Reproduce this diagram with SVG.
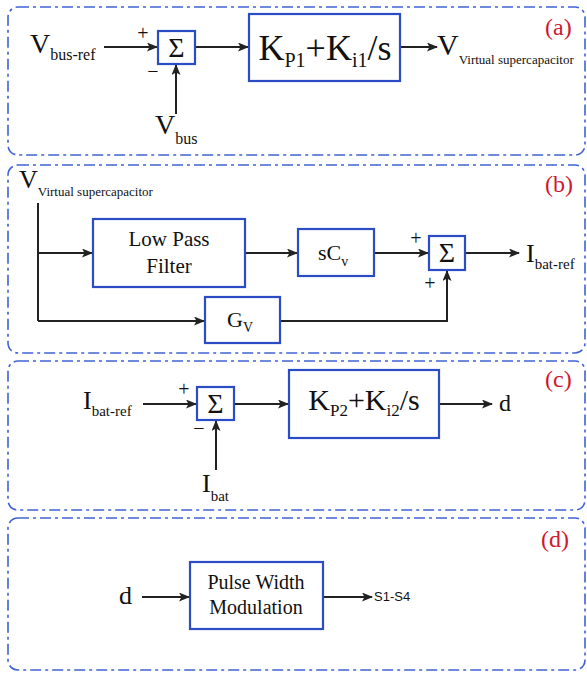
<svg xmlns="http://www.w3.org/2000/svg" width="587" height="673" viewBox="0 0 587 673">
<defs>
<marker id="ah" markerWidth="11" markerHeight="9" refX="10" refY="4.5" orient="auto" markerUnits="userSpaceOnUse">
<path d="M0,0 L11,4.5 L0,9 L2.5,4.5 z" fill="#222"/>
</marker>
<style>
.panel{fill:none;stroke:#3f63d3;stroke-width:1.6;stroke-dasharray:11 4 3 4}
.blk{fill:#fff;stroke:#2a4cc4;stroke-width:2.2}
.ln{fill:none;stroke:#222;stroke-width:2}
.ar{fill:none;stroke:#222;stroke-width:2;marker-end:url(#ah)}
.t{fill:#111}
.lab{fill:#d0182e}
.s{fill:#111}
</style>
</defs>
<rect width="587" height="673" fill="#fff"/>

<g font-family="Liberation Serif, Times New Roman, DejaVu Serif, serif">
<!-- panels -->
<g id="panel-a"><rect class="panel" x="8" y="7" width="577" height="148" rx="10"/><text class="lab" x="545" y="35" font-size="24">(a)</text></g>
<g id="panel-b"><rect class="panel" x="8" y="165" width="577" height="188" rx="10"/><text class="lab" x="545" y="192" font-size="24">(b)</text></g>
<g id="panel-c"><rect class="panel" x="8" y="361" width="577" height="149" rx="10"/><text class="lab" x="545" y="387" font-size="24">(c)</text></g>
<g id="panel-d"><rect class="panel" x="8" y="518" width="577" height="152" rx="10"/><text class="lab" x="541" y="547" font-size="24">(d)</text></g>

<!-- connectors -->
<g id="connectors">
<line class="ar" x1="104" y1="47" x2="157" y2="47"/>
<line class="ar" x1="176" y1="114" x2="176" y2="65"/>
<line class="ar" x1="195" y1="47" x2="248" y2="47"/>
<line class="ar" x1="401" y1="47" x2="437" y2="47"/>

<polyline class="ln" points="38,203 38,321"/>
<line class="ar" x1="38" y1="253" x2="92" y2="253"/>
<line class="ar" x1="245" y1="253" x2="297" y2="253"/>
<line class="ar" x1="374" y1="253" x2="428" y2="253"/>
<line class="ar" x1="465" y1="253" x2="519" y2="253"/>
<line class="ar" x1="38" y1="321" x2="204" y2="321"/>
<polyline class="ar" points="280,321 447,321 447,271"/>

<line class="ar" x1="143" y1="404" x2="196" y2="404"/>
<line class="ar" x1="216" y1="470" x2="216" y2="421"/>
<line class="ar" x1="234" y1="404" x2="288" y2="404"/>
<line class="ar" x1="440" y1="404" x2="492" y2="404"/>

<line class="ar" x1="142" y1="597" x2="189" y2="597"/>
<line class="ar" x1="324" y1="597" x2="372" y2="597"/>
</g>

<!-- panel a -->
<g id="a-vbusref"><text class="t" x="30" y="53" font-size="28">V<tspan font-size="16" dy="7">bus-ref</tspan></text></g>
<g id="a-sum">
<rect class="blk" x="158" y="31" width="37" height="33"/>
<text class="t" x="176.5" y="57" font-size="28" text-anchor="middle">Σ</text>
<text class="t" x="143" y="40" font-size="20" text-anchor="middle">+</text>
<text class="t" x="153" y="78" font-size="20" text-anchor="middle">−</text>
</g>
<g id="a-vbus"><text class="t" x="155" y="134" font-size="28">V<tspan font-size="16" dy="10">bus</tspan></text></g>
<g id="a-pi">
<rect class="blk" x="249" y="14" width="151" height="67"/>
<text class="t" x="325" y="60" font-size="36" text-anchor="middle">K<tspan font-size="20" dy="7">P1</tspan><tspan dy="-7">+K</tspan><tspan font-size="20" dy="7">i1</tspan><tspan dy="-7">/s</tspan></text>
</g>
<g id="a-vvs"><text class="t" x="437" y="55" font-size="30">V<tspan font-size="13" dy="9">Virtual supercapacitor</tspan></text></g>

<!-- panel b -->
<g id="b-vvs"><text class="t" x="19" y="188" font-size="26">V<tspan font-size="13" dy="8">Virtual supercapacitor</tspan></text></g>
<g id="b-lpf">
<rect class="blk" x="93" y="219" width="152" height="68"/>
<text class="t" x="169" y="246" font-size="21" text-anchor="middle">Low Pass</text>
<text class="t" x="169" y="273" font-size="21" text-anchor="middle">Filter</text>
</g>
<g id="b-scv">
<rect class="blk" x="298" y="229" width="76" height="47"/>
<text class="t" x="333" y="260" font-size="22" text-anchor="middle">sC<tspan font-size="14" dy="6">v</tspan></text>
</g>
<g id="b-sum">
<rect class="blk" x="429" y="236" width="36" height="34"/>
<text class="t" x="447" y="262" font-size="28" text-anchor="middle">Σ</text>
<text class="t" x="416" y="245" font-size="20" text-anchor="middle">+</text>
<text class="t" x="430" y="290" font-size="20" text-anchor="middle">+</text>
</g>
<g id="b-ibatref"><text class="t" x="526" y="262" font-size="26">I<tspan font-size="15" dy="7">bat-ref</tspan></text></g>
<g id="b-gv">
<rect class="blk" x="205" y="297" width="75" height="46"/>
<text class="t" x="240" y="327" font-size="22" text-anchor="middle">G<tspan font-size="14" dy="5">V</tspan></text>
</g>

<!-- panel c -->
<g id="c-ibatref"><text class="t" x="83" y="409" font-size="26">I<tspan font-size="15" dy="7">bat-ref</tspan></text></g>
<g id="c-sum">
<rect class="blk" x="197" y="387" width="37" height="33"/>
<text class="t" x="215.5" y="413" font-size="28" text-anchor="middle">Σ</text>
<text class="t" x="184" y="396" font-size="20" text-anchor="middle">+</text>
<text class="t" x="199" y="435" font-size="20" text-anchor="middle">−</text>
</g>
<g id="c-ibat"><text class="t" x="202" y="492" font-size="26">I<tspan font-size="15" dy="9">bat</tspan></text></g>
<g id="c-pi">
<rect class="blk" x="289" y="370" width="150" height="68"/>
<text class="t" x="364" y="410" font-size="30" text-anchor="middle">K<tspan font-size="17" dy="6">P2</tspan><tspan dy="-6">+K</tspan><tspan font-size="17" dy="6">i2</tspan><tspan dy="-6">/s</tspan></text>
</g>
<g id="c-d"><text class="t" x="499" y="411" font-size="24">d</text></g>

<!-- panel d -->
<g id="d-d"><text class="t" x="119" y="604" font-size="26">d</text></g>
<g id="d-pwm">
<rect class="blk" x="190" y="562" width="133" height="67"/>
<text class="t" x="256" y="589" font-size="20" text-anchor="middle">Pulse Width</text>
<text class="t" x="256" y="614" font-size="20" text-anchor="middle">Modulation</text>
</g>
</g>
<g id="d-s"><text class="s" x="374" y="601" font-size="13" font-family="Liberation Sans, Arial, sans-serif">S1-S4</text></g>
</svg>
